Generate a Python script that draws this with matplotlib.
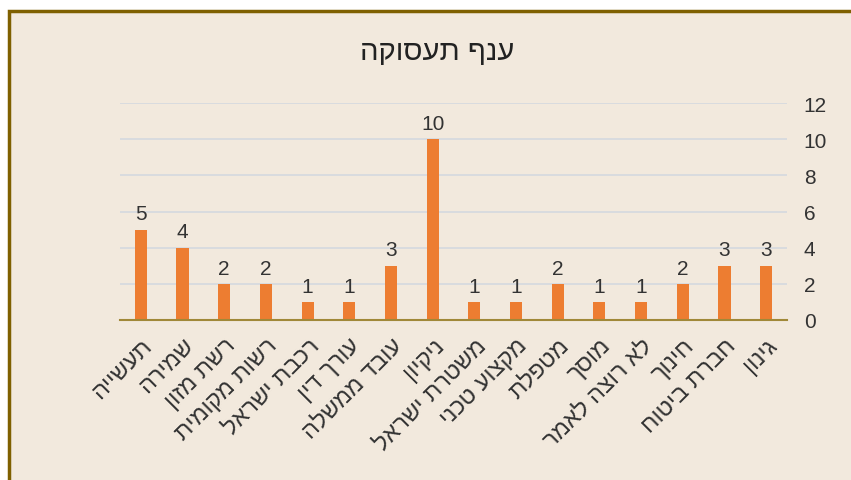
import matplotlib
matplotlib.use('Agg')
import matplotlib.pyplot as plt
from matplotlib.patches import Rectangle

plt.rcParams['font.family'] = ['Liberation Sans', 'DejaVu Sans']

# categories, left to right as shown in the picture
categories = ['תעשייה', 'שמירה', 'רשת מזון', 'רשות מקומית', 'רכבת ישראל',
              'עורך דין', 'עובד ממשלה', 'ניקיון', 'משטרת ישראל', 'מקצוע טכני',
              'מטפלת', 'מוסך', 'לא רוצה לאמר', 'חינוך', 'חברת ביטוח', 'גינון']
counts = [5, 4, 2, 2, 1, 1, 3, 10, 1, 1, 2, 1, 1, 2, 3, 3]
yticks = [0, 2, 4, 6, 8, 10, 12]
title = 'ענף תעסוקה'

bg = '#F2E9DD'
bar_color = '#ED7D31'
text_color = '#333333'


# matplotlib draws left to right, so hebrew has to be flipped by hand
def rtl(s):
    return s[::-1]


fig = plt.figure(figsize=(8.51, 4.81), dpi=100)
fig.patch.set_facecolor('white')
frame = Rectangle((9 / 851, -0.05), 1.1, 1 - 12 / 481 + 0.05,
                  transform=fig.transFigure, facecolor=bg,
                  edgecolor='#7F6000', linewidth=2.5)
frame.set_zorder(-10)
fig.add_artist(frame)

ax = fig.add_axes([120 / 851, 1 - 321 / 481, 667 / 851, 217 / 481])
ax.set_facecolor('none')
ax.set_zorder(5)

x = list(range(len(categories)))
bars = ax.bar(x, counts, width=0.29, color=bar_color, zorder=3)
for b, v in zip(bars, counts):
    ax.text(b.get_x() + b.get_width() / 2, v + 0.35, str(v), ha='center',
            va='bottom', fontsize=15, color=text_color)

ax.set_xlim(-0.5, len(categories) - 0.5)
ax.set_ylim(0, 12)
ax.set_yticks(yticks)
ax.yaxis.tick_right()
ax.tick_params(axis='y', length=0, pad=12, labelsize=15, labelcolor=text_color)
ax.grid(axis='y', color='#D5D9DF', linewidth=1.2, zorder=0)

ax.set_xticks(x)
ax.set_xticklabels([rtl(c) for c in categories], rotation=45, ha='right',
                   va='top', rotation_mode='anchor', fontsize=17,
                   color=text_color)
ax.tick_params(axis='x', length=0, pad=10)

for side in ['left', 'right', 'top']:
    ax.spines[side].set_visible(False)
ax.spines['bottom'].set_color('#A08838')
ax.spines['bottom'].set_linewidth(1.5)
ax.spines['bottom'].set_zorder(4)

fig.text(437 / 851, 1 - 52 / 481, rtl(title), ha='center', va='center',
         fontsize=21, color='#222222')

fig.savefig('out.png', dpi=100, facecolor=fig.get_facecolor())
